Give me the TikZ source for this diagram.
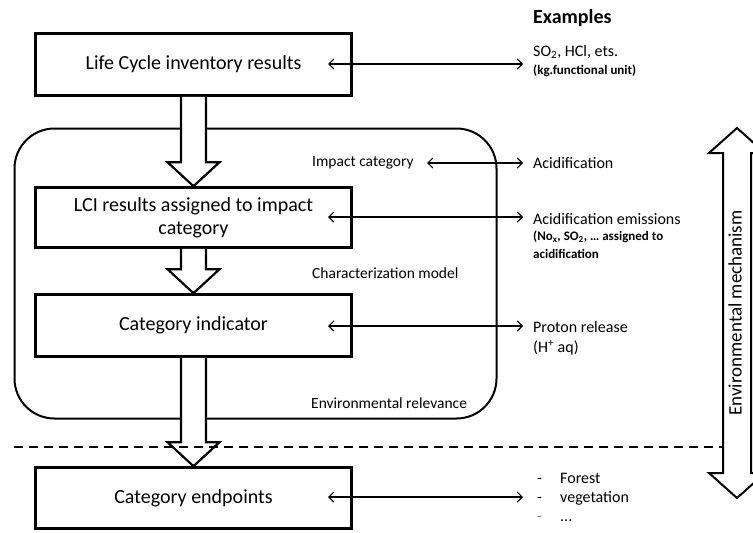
\documentclass[tikz,border=0pt]{standalone}
\usepackage{fontspec}
\setmainfont{Carlito}
\usetikzlibrary{calc,arrows.meta}
\newcommand{\blockarrow}[2]{%
  \draw[blk] ($(#1.south)+(-12.5,0)$) -- ($(#2.north)+(-12.5,-24)$) -- ($(#2.north)+(-26,-24)$) -- (#2.north) -- ($(#2.north)+(26,-24)$) -- ($(#2.north)+(12.5,-24)$) -- ($(#1.south)+(12.5,0)$);}
\begin{document}
\begin{tikzpicture}[x=1pt,y=-1pt,
  box/.style={draw,line width=2.6pt,minimum width=316pt,inner sep=0pt,font=\fontsize{20}{23}\selectfont,align=center},
  lbl/.style={anchor=west,inner sep=0pt,font=\fontsize{15.5}{18}\selectfont},
  ex/.style={anchor=west,inner sep=0pt,font=\fontsize{16}{19}\selectfont},
  exb/.style={anchor=west,inner sep=0pt,font=\fontsize{13}{16}\selectfont\bfseries},
  harr/.style={line width=1.1pt,{Straight Barb[length=5pt,width=10pt]}-{Straight Barb[length=5pt,width=10pt]}},
  blk/.style={draw,fill=white,line width=2.2pt,line join=miter},
]
\useasboundingbox (0,0) rectangle (753,533);
\clip (0,0) rectangle (753,533);

% frame
\node[draw,line width=2pt,rounded corners=40pt,minimum width=482pt,minimum height=290pt,inner sep=0pt] (frame) at (255.5,273.5) {};

% boxes
\node[box,minimum height=62pt] (b1) at (193.5,64.5) {Life Cycle inventory results};
\node[box,minimum height=60pt] (b2) at (193.5,217.5) {LCI results assigned to impact\\category};
\node[box,minimum height=62pt] (b3) at (193.5,325.5) {Category indicator};
\node[box,minimum height=61pt] (b4) at (193.5,498) {Category endpoints};

% block arrows
\blockarrow{b1}{b2}
\blockarrow{b2}{b3}
\blockarrow{b3}{b4}

% dashed line
\coordinate (d1) at (14,447);
\coordinate (d2) at (722,447);
\draw[line width=2pt,dash pattern=on 9pt off 6pt] (d1) -- (d2);

% environmental mechanism arrow
\draw[blk,line width=2pt] (723,153) -- (723,473) -- (709,473) -- (737,498) -- (765,473) -- (751,473) -- (751,153) -- (765,153) -- (737,128) -- (709,153) -- cycle;
\node[rotate=90,inner sep=0pt,font=\fontsize{19}{23}\selectfont] (em) at (735,313) {Environmental mechanism};

% labels inside frame
\node[lbl] (ic) at (312,163) {Impact category};
\node[lbl] (cm) at (312,273) {Characterization model};
\node[lbl] (er) at (311,403) {Environmental relevance};

% examples
\node[anchor=west,inner sep=0pt,font=\fontsize{20}{24}\selectfont\bfseries] (exh) at (533,18) {Examples};
\node[ex] (e1a) at (533,52) {SO\textsubscript{2}, HCl, ets.};
\node[exb] (e1b) at (533,71) {(kg.functional unit)};
\node[ex] (e2) at (533,163) {Acidification};
\node[ex] (e3a) at (533,219) {Acidification emissions};
\node[exb] (e3b) at (533,237) {(No\textsubscript{x}, SO\textsubscript{2}, … assigned to};
\node[exb] (e3c) at (533,254) {acidification};
\node[ex] (e4a) at (533,327) {Proton release};
\node[ex] (e4b) at (533,348) {(H\textsuperscript{+} aq)};
\node[ex,anchor=base west] (e5a) at (537,483) {\makebox[23pt][l]{-}Forest};
\node[ex,anchor=base west] (e5b) at (537,502) {\makebox[23pt][l]{-}vegetation};
\node[ex,anchor=base west] (e5c) at (537,521) {\makebox[23pt][l]{\textcolor{gray}{-}}...};

% double arrows
\coordinate (a1l) at (328,64);  \coordinate (a1r) at (523,64);
\coordinate (a2l) at (427,163); \coordinate (a2r) at (523,163);
\coordinate (a3l) at (328,217); \coordinate (a3r) at (523,217);
\coordinate (a4l) at (328,326); \coordinate (a4r) at (523,326);
\coordinate (a5l) at (328,497); \coordinate (a5r) at (523,497);
\draw[harr] (a1l) -- (a1r);
\draw[harr] (a2l) -- (a2r);
\draw[harr] (a3l) -- (a3r);
\draw[harr] (a4l) -- (a4r);
\draw[harr] (a5l) -- (a5r);
\end{tikzpicture}
\end{document}
